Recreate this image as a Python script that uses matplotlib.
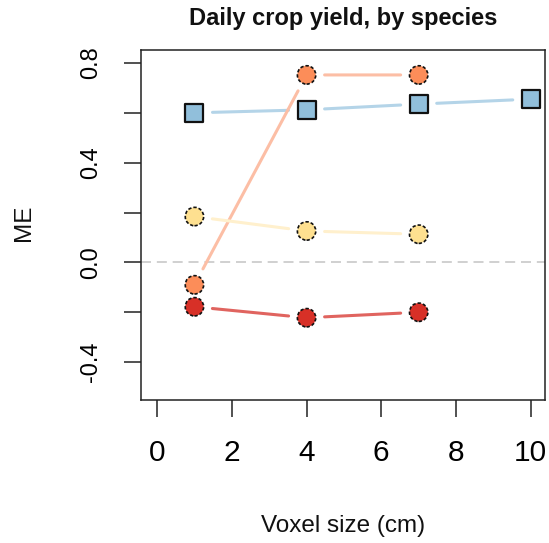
import matplotlib
matplotlib.use("Agg")
import matplotlib.pyplot as plt

# Mean error (ME) per voxel size, one series per species
voxel_blue = [1, 4, 7, 10]
me_blue = [0.600, 0.612, 0.635, 0.655]

voxel_orange = [1, 4, 7]
me_orange = [-0.090, 0.752, 0.752]

voxel_yellow = [1, 4, 7]
me_yellow = [0.184, 0.126, 0.113]

voxel_red = [1, 4, 7]
me_red = [-0.178, -0.222, -0.200]

x_ticks = [0, 2, 4, 6, 8, 10]
x_tick_labels = ["0", "2", "4", "6", "8", "10"]
y_ticks = [-0.4, -0.2, 0.0, 0.2, 0.4, 0.6, 0.8]
y_tick_labels = ["-0.4", "", "0.0", "", "0.4", "", "0.8"]

plt.rcParams['font.family'] = ['Liberation Sans', 'DejaVu Sans']

W, H = 549, 543
fig = plt.figure(figsize=(W / 100, H / 100), dpi=100)
ax = fig.add_axes([141 / W, 1 - 400 / H, 404 / W, 350 / H])
ax.set_xlim(-0.43, 10.38)
ax.set_ylim(-0.552, 0.852)

# reference line at zero
ax.axhline(0, color='#c8c8c8', lw=1.2, dashes=(6, 3.5), zorder=1)


def connect(xs, ys, color):
    """Join consecutive points with segments that stop short of the markers."""
    for i in range(len(xs) - 1):
        ax.annotate('', xy=(xs[i + 1], ys[i + 1]), xytext=(xs[i], ys[i]),
                    arrowprops=dict(arrowstyle='-', color=color, lw=2.2,
                                    shrinkA=13, shrinkB=13),
                    annotation_clip=False, zorder=2)


connect(voxel_blue, me_blue, '#b4d4e8')
connect(voxel_orange, me_orange, '#fcbea5')
connect(voxel_yellow, me_yellow, '#fff0cd')
connect(voxel_red, me_red, '#e0645f')

ax.scatter(voxel_blue, me_blue, s=165, marker='s', facecolor='#91bfdb',
           edgecolor='#111111', linewidths=1.6, zorder=3)
for xs, ys, fc in [(voxel_orange, me_orange, '#fc8d59'),
                   (voxel_yellow, me_yellow, '#fee090'),
                   (voxel_red, me_red, '#d73027')]:
    ax.scatter(xs, ys, s=175, marker='o', facecolor=fc, edgecolor='#111111',
               linewidths=1.2, linestyle=(0, (2, 1.2)), zorder=3)

for sp in ax.spines.values():
    sp.set_linewidth(1.1)
    sp.set_color('#222222')

ax.set_xticks(x_ticks)
ax.set_xticklabels(x_tick_labels)
ax.set_yticks(y_ticks)
ax.set_yticklabels(y_tick_labels, rotation=90, va='center')
ax.tick_params(axis='both', length=12.2, width=1.1, color='#222222')
ax.tick_params(axis='x', labelsize=21.5, pad=16)
ax.tick_params(axis='y', labelsize=17, pad=16)

fig.text(343 / W, 1 - 18 / H, 'Daily crop yield, by species', ha='center',
         va='center', fontsize=17, fontweight='bold', color='#111111')
fig.text(343 / W, 1 - 526 / H, 'Voxel size (cm)', ha='center', va='center',
         fontsize=17.5, color='#111111')
fig.text(24 / W, 1 - 223 / H, 'ME', ha='center', va='center', rotation=90,
         fontsize=17.5, color='#111111')

fig.savefig('out.png', dpi=100)
